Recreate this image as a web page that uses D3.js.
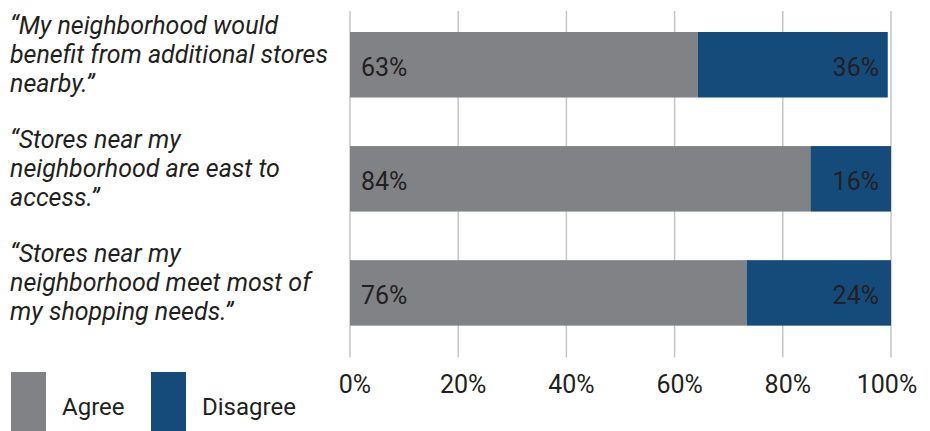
<!DOCTYPE html>
<html>
<head>
<meta charset="utf-8">
<script src="https://cdn.jsdelivr.net/npm/d3@7"></script>
<style>
  html, body { margin: 0; padding: 0; background: #fff; }
  svg { display: block; }
</style>
</head>
<body>
<div id="chart"></div>
<script>
'use strict';

// Survey statements (one entry per line of the quote)
const statements = [
    ['\u201CMy neighborhood would', 'benefit from additional stores', 'nearby.\u201D'],
    ['\u201CStores near my', 'neighborhood are east to', 'access.\u201D'],
    ['\u201CStores near my', 'neighborhood meet most of', 'my shopping needs.\u201D']
];

// Bar lengths as drawn, and the printed labels
const agreeValues    = [64.3, 85.1, 73.3];
const disagreeValues = [35.1, 14.9, 26.7];
const agreeLabels    = ['63%', '84%', '76%'];
const disagreeLabels = ['36%', '16%', '24%'];

const xTicks = [0, 20, 40, 60, 80, 100];
const seriesNames = ['Agree', 'Disagree'];

const COLORS = { Agree: '#818286', Disagree: '#154b7b' };
const TEXT = '#231f20';
const FONT = "Roboto, 'Open Sans', sans-serif";

const W = 930, H = 431;

const svg = d3.select('#chart').append('svg')
    .attr('width', W)
    .attr('height', H)
    .attr('viewBox', `0 0 ${W} ${H}`);

const x = d3.scaleLinear().domain([0, 100]).range([350, 891]);
const y = d3.scalePoint().domain(d3.range(statements.length)).range([64.75, 292.9]);
const barH = 65.5;

// Vertical gridlines
svg.append('g')
    .selectAll('line')
    .data(xTicks)
    .join('line')
    .attr('x1', d => x(d))
    .attr('x2', d => x(d))
    .attr('y1', 11)
    .attr('y2', 357.5)
    .attr('stroke', '#c6c6c6')
    .attr('stroke-width', 1.5);

// Tick labels
svg.append('g')
    .selectAll('text')
    .data(xTicks)
    .join('text')
    .attr('x', d => x(d))
    .attr('dx', d => d === 100 ? -4 : 5)
    .attr('y', 393)
    .attr('text-anchor', 'middle')
    .attr('fill', TEXT)
    .attr('font-family', FONT)
    .attr('font-size', 25)
    .text(d => d + '%');

// Stacked rows
const rows = svg.append('g')
    .selectAll('g')
    .data(statements.map((s, i) => ({
        i, agree: agreeValues[i], disagree: disagreeValues[i],
        aLabel: agreeLabels[i], dLabel: disagreeLabels[i]
    })))
    .join('g');

rows.append('rect')
    .attr('x', x(0))
    .attr('y', d => y(d.i) - barH / 2)
    .attr('width', d => x(d.agree) - x(0))
    .attr('height', barH)
    .attr('fill', COLORS.Agree);

rows.append('rect')
    .attr('x', d => x(d.agree))
    .attr('y', d => y(d.i) - barH / 2)
    .attr('width', d => x(d.agree + d.disagree) - x(d.agree))
    .attr('height', barH)
    .attr('fill', COLORS.Disagree);

rows.append('text')
    .attr('x', x(0) + 11)
    .attr('y', d => y(d.i) + 11)
    .attr('fill', TEXT)
    .attr('font-family', FONT)
    .attr('font-size', 25)
    .text(d => d.aLabel);

rows.append('text')
    .attr('x', x(100) - 12)
    .attr('y', d => y(d.i) + 11)
    .attr('text-anchor', 'end')
    .attr('fill', TEXT)
    .attr('font-family', FONT)
    .attr('font-size', 25)
    .text(d => d.dLabel);

// Statement labels, left side
const lineH = 29;
svg.append('g')
    .selectAll('text')
    .data(statements)
    .join('text')
    .attr('font-family', FONT)
    .attr('font-style', 'italic')
    .attr('font-size', 25)
    .attr('fill', TEXT)
    .each(function (lines, i) {
        d3.select(this).selectAll('tspan')
            .data(lines)
            .join('tspan')
            .attr('x', 10)
            .attr('y', (l, j) => y(i) - 2 + (j - 1) * lineH)
            .text(l => l);
    });

// Legend
const legend = svg.append('g')
    .selectAll('g')
    .data(seriesNames)
    .join('g')
    .attr('transform', (d, i) => `translate(${11 + i * 140},372)`);

legend.append('rect')
    .attr('width', 35)
    .attr('height', 59)
    .attr('fill', d => COLORS[d]);

legend.append('text')
    .attr('x', 51)
    .attr('y', 43)
    .attr('fill', TEXT)
    .attr('font-family', FONT)
    .attr('font-size', 24)
    .text(d => d);
</script>
</body>
</html>
